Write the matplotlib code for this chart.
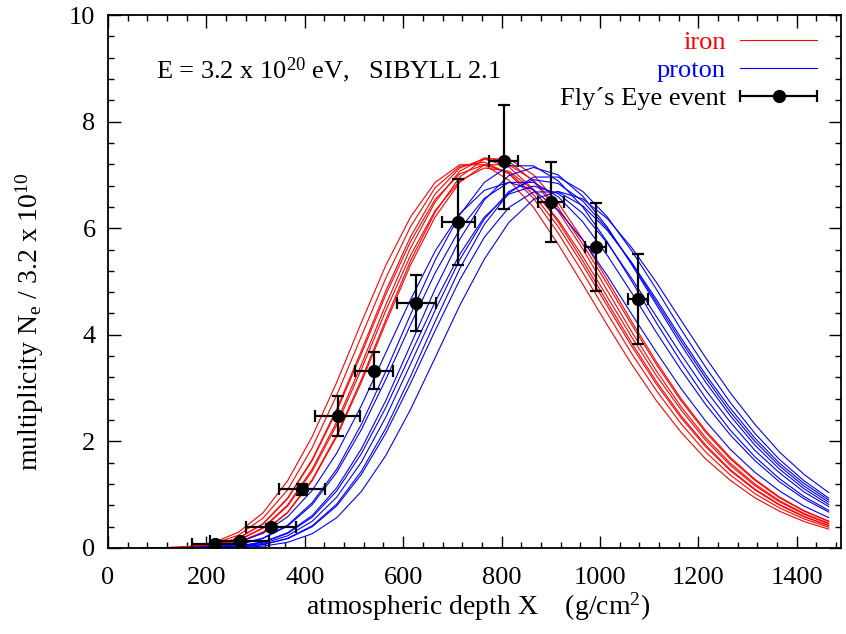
import matplotlib
matplotlib.use('Agg')
import matplotlib.pyplot as plt
from matplotlib.lines import Line2D
from matplotlib.legend_handler import HandlerErrorbar
from matplotlib.ticker import MultipleLocator

plt.rcParams['font.family'] = ['Liberation Serif', 'DejaVu Serif']
plt.rcParams['mathtext.fontset'] = 'custom'
plt.rcParams['mathtext.rm'] = 'Liberation Serif'
plt.rcParams['mathtext.it'] = 'Liberation Serif:italic'

FS = 19

# atmospheric depth grid of the simulated profiles (g/cm^2)
depth = [65, 115, 165, 215, 265, 315, 365, 415, 465, 515, 565, 615, 665, 715, 765,
         815, 865, 915, 965, 1015, 1065, 1115, 1165, 1215, 1265, 1315, 1365, 1415, 1465]

# SIBYLL 2.1 iron showers (N_e / 3.2e10)
iron_1 = [0.0, 0.002, 0.014, 0.059, 0.184, 0.456, 0.937, 1.66, 2.61, 3.70, 4.83, 5.84, 6.64, 7.13, 7.30,
          7.15, 6.73, 6.12, 5.39, 4.61, 3.84, 3.12, 2.48, 1.93, 1.47, 1.105, 0.815, 0.593, 0.424]
iron_2 = [0.0, 0.002, 0.014, 0.058, 0.181, 0.449, 0.923, 1.64, 2.57, 3.64, 4.76, 5.75, 6.54, 7.02, 7.19,
          7.04, 6.63, 6.03, 5.31, 4.54, 3.78, 3.07, 2.44, 1.90, 1.45, 1.09, 0.803, 0.584, 0.418]
iron_3 = [0.0, 0.0, 0.006, 0.030, 0.109, 0.299, 0.670, 1.28, 2.12, 3.16, 4.29, 5.39, 6.30, 6.96, 7.30,
          7.30, 7.00, 6.48, 5.79, 5.03, 4.24, 3.49, 2.80, 2.20, 1.70, 1.29, 0.956, 0.700, 0.505]
iron_4 = [0.0, 0.0, 0.006, 0.030, 0.107, 0.295, 0.660, 1.26, 2.09, 3.11, 4.23, 5.31, 6.21, 6.86, 7.19,
          7.19, 6.90, 6.39, 5.70, 4.95, 4.18, 3.44, 2.76, 2.17, 1.67, 1.27, 0.941, 0.690, 0.497]
iron_5 = [0.0, 0.004, 0.022, 0.084, 0.240, 0.559, 1.09, 1.88, 2.87, 3.97, 5.07, 6.03, 6.76, 7.16, 7.24,
          7.02, 6.56, 5.91, 5.17, 4.40, 3.64, 2.95, 2.33, 1.80, 1.37, 1.02, 0.752, 0.545, 0.389]
iron_6 = [0.0, 0.001, 0.010, 0.045, 0.147, 0.379, 0.806, 1.48, 2.37, 3.44, 4.57, 5.63, 6.49, 7.07, 7.32,
          7.25, 6.88, 6.32, 5.61, 4.83, 4.05, 3.32, 2.65, 2.07, 1.59, 1.20, 0.887, 0.648, 0.465]
iron_7 = [0.0, 0.001, 0.010, 0.044, 0.143, 0.369, 0.786, 1.44, 2.31, 3.35, 4.46, 5.49, 6.33, 6.89, 7.13,
          7.07, 6.71, 6.16, 5.47, 4.71, 3.95, 3.23, 2.59, 2.02, 1.55, 1.17, 0.865, 0.632, 0.454]
iron_8 = [0.0, 0.006, 0.030, 0.107, 0.295, 0.660, 1.26, 2.09, 3.11, 4.23, 5.31, 6.21, 6.86, 7.19, 7.19,
          6.90, 6.39, 5.70, 4.95, 4.18, 3.44, 2.76, 2.17, 1.67, 1.27, 0.941, 0.690, 0.497, 0.353]
iron = [iron_1, iron_2, iron_3, iron_4, iron_5, iron_6, iron_7, iron_8]

# SIBYLL 2.1 proton showers
proton_1 = [0.0, 0.001, 0.004, 0.020, 0.067, 0.186, 0.428, 0.849, 1.48, 2.32, 3.32, 4.38, 5.40, 6.25, 6.86,
            7.17, 7.17, 6.89, 6.40, 5.74, 5.00, 4.22, 3.49, 2.81, 2.21, 1.71, 1.30, 0.964, 0.706]
proton_2 = [0.0, 0.0, 0.002, 0.009, 0.037, 0.113, 0.286, 0.608, 1.13, 1.86, 2.77, 3.81, 4.86, 5.79, 6.53,
            6.99, 7.14, 7.00, 6.60, 6.02, 5.31, 4.56, 3.81, 3.11, 2.48, 1.93, 1.48, 1.11, 0.818]
proton_3 = [0.0, 0.0, 0.002, 0.009, 0.035, 0.108, 0.272, 0.578, 1.07, 1.77, 2.64, 3.63, 4.62, 5.51, 6.21,
            6.64, 6.79, 6.65, 6.28, 5.72, 5.05, 4.34, 3.63, 2.96, 2.36, 1.83, 1.41, 1.05, 0.778]
proton_4 = [0.0, 0.0, 0.001, 0.004, 0.019, 0.065, 0.181, 0.416, 0.824, 1.44, 2.25, 3.22, 4.25, 5.24, 6.07,
            6.66, 6.96, 6.96, 6.69, 6.21, 5.57, 4.85, 4.10, 3.39, 2.73, 2.15, 1.66, 1.26, 0.936]
proton_5 = [0.0, 0.0, 0.001, 0.004, 0.018, 0.062, 0.174, 0.399, 0.791, 1.38, 2.16, 3.09, 4.08, 5.03, 5.83,
            6.39, 6.68, 6.68, 6.42, 5.96, 5.35, 4.66, 3.94, 3.25, 2.62, 2.06, 1.59, 1.21, 0.899]
proton_6 = [0.0, 0.002, 0.009, 0.035, 0.109, 0.274, 0.584, 1.08, 1.78, 2.67, 3.67, 4.66, 5.57, 6.27, 6.71,
            6.86, 6.72, 6.34, 5.78, 5.11, 4.38, 3.67, 2.99, 2.38, 1.85, 1.42, 1.07, 0.786, 0.570]
proton_7 = [0.0, 0.001, 0.004, 0.019, 0.064, 0.178, 0.410, 0.812, 1.42, 2.22, 3.17, 4.19, 5.16, 5.98, 6.56,
            6.86, 6.86, 6.59, 6.12, 5.49, 4.78, 4.04, 3.34, 2.69, 2.12, 1.64, 1.24, 0.922, 0.675]
proton_8 = [0.0, 0.0, 0.0, 0.002, 0.009, 0.034, 0.106, 0.267, 0.569, 1.06, 1.74, 2.60, 3.57, 4.55, 5.42,
            6.11, 6.54, 6.69, 6.55, 6.18, 5.63, 4.98, 4.27, 3.57, 2.91, 2.32, 1.80, 1.38, 1.04]
proton_9 = [0.0, 0.0, 0.001, 0.006, 0.027, 0.087, 0.228, 0.501, 0.955, 1.61, 2.46, 3.45, 4.46, 5.41, 6.17,
            6.69, 6.91, 6.84, 6.51, 5.99, 5.34, 4.61, 3.88, 3.19, 2.55, 2.00, 1.54, 1.16, 0.860]
proton = [proton_1, proton_2, proton_3, proton_4, proton_5, proton_6, proton_7, proton_8, proton_9]

# Fly's Eye event
fe_depth = [217, 268, 331, 394, 467, 541, 627, 712, 804, 900, 991, 1077]
fe_ne = [0.07, 0.14, 0.40, 1.10, 2.48, 3.33, 4.60, 6.12, 7.27, 6.49, 5.65, 4.67]
fe_depth_err = [47, 60, 51, 47, 46, 39, 39, 33, 29, 26, 22, 20]
fe_ne_lo = [0.03, 0.03, 0.05, 0.10, 0.37, 0.34, 0.53, 0.81, 0.91, 0.75, 0.82, 0.85]
fe_ne_hi = [0.03, 0.03, 0.05, 0.10, 0.37, 0.34, 0.53, 0.81, 1.04, 0.75, 0.82, 0.85]

fig = plt.figure(figsize=(8.46, 6.34), dpi=100)
ax = fig.add_axes([108 / 846, 86 / 634, 733 / 846, 533 / 634])

for ne in iron:
    ax.plot(depth, ne, color='#ff0000', lw=0.8)
for ne in proton:
    ax.plot(depth, ne, color='#0000ff', lw=0.8)

eb = ax.errorbar(fe_depth, fe_ne, xerr=fe_depth_err, yerr=[fe_ne_lo, fe_ne_hi],
                 fmt='o', color='black', ms=8.5, elinewidth=1.6, capsize=4.3,
                 capthick=1.6, zorder=5)

ax.set_xlim(0, 1490)
ax.set_ylim(0, 10)
ax.xaxis.set_major_locator(MultipleLocator(200))
ax.xaxis.set_minor_locator(MultipleLocator(40))
ax.yaxis.set_major_locator(MultipleLocator(2))
ax.yaxis.set_minor_locator(MultipleLocator(0.4))
ax.tick_params(which='both', direction='in', top=True, right=True, labelsize=FS)
ax.tick_params(which='major', length=9, width=1.0)
ax.tick_params(which='minor', length=4.5, width=1.0)
ax.tick_params(axis='x', pad=14)
ax.tick_params(axis='y', pad=9)
for s in ax.spines.values():
    s.set_linewidth(1.3)

ax.set_xlabel(r'atmospheric depth X    (g/cm$^2$)', fontsize=20)
ax.xaxis.set_label_coords(0.505, -0.08)
ax.set_ylabel(r'multiplicity N$_{\rm e}$ / 3.2 x 10$^{10}$', fontsize=20)
ax.yaxis.set_label_coords(-0.085, 0.424)

ax.text(0.065, 0.897, r'E = 3.2 x 10$^{20}$ eV,   SIBYLL 2.1', transform=ax.transAxes,
        fontsize=FS, va='center', ha='left')

h_iron = Line2D([], [], color='#ff0000', lw=0.8)
h_proton = Line2D([], [], color='#0000ff', lw=0.8)
ax.legend([h_iron, h_proton, eb], ['iron', 'proton', 'Fly\u00b4s Eye event'],
          loc='upper right', bbox_to_anchor=(0.967, 0.971), borderaxespad=0, borderpad=0,
          frameon=False, markerfirst=False, fontsize=FS, handlelength=2.9,
          handletextpad=0.55, labelspacing=0.17, labelcolor=['#ff0000', '#0000ff', 'black'],
          handler_map={type(eb): HandlerErrorbar(xerr_size=1.45, yerr_size=0.0)})

fig.savefig('out.png', dpi=100)
